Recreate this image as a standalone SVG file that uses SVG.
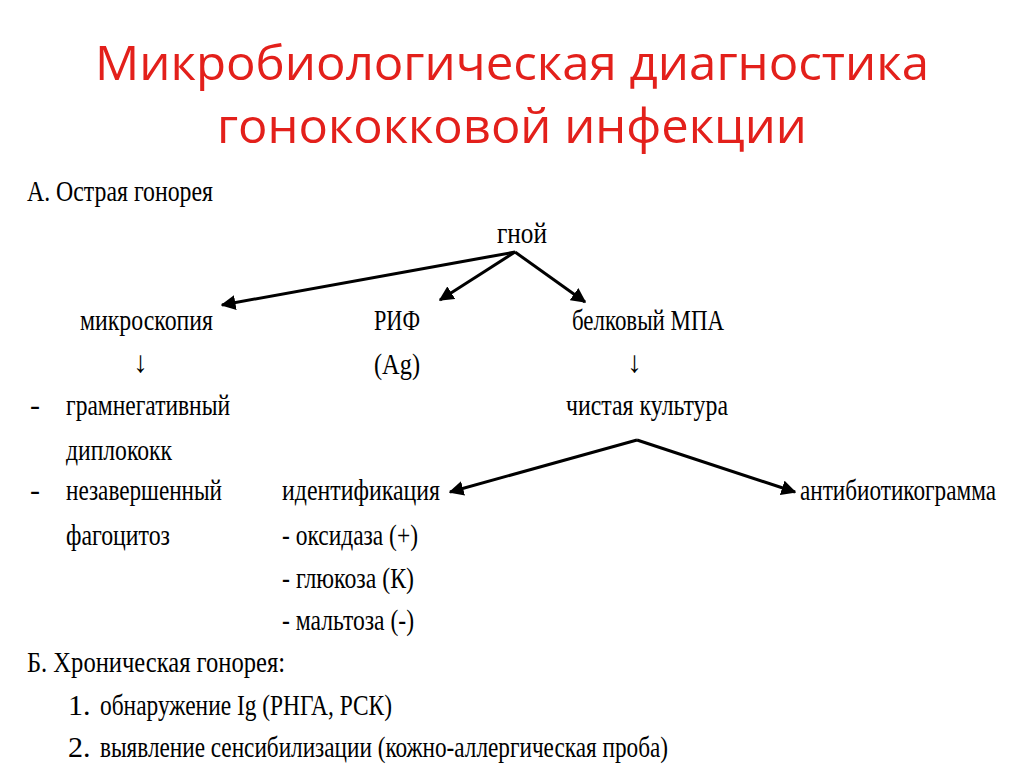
<svg xmlns="http://www.w3.org/2000/svg" width="1024" height="767" viewBox="0 0 1024 767">
<style>
.t{font-family:"Liberation Serif",serif;font-size:30px;fill:#000}
.h{font-family:"Open Sans","Liberation Sans",sans-serif;font-size:48px;fill:#e3201b;text-anchor:middle}
.c{stroke:#000;stroke-width:3;fill:none;marker-end:url(#a)}
</style>
<defs><marker id="a" viewBox="0 0 10 10" refX="9" refY="5" markerWidth="5" markerHeight="5" orient="auto"><path d="M0,0L10,5L0,10z" fill="#000"/></marker></defs>
<rect width="1024" height="767" fill="#fff"/>
<g id="title"><text class="h" x="512" y="80" textLength="834" lengthAdjust="spacingAndGlyphs">Микробиологическая диагностика</text><text class="h" x="512" y="143" textLength="590" lengthAdjust="spacingAndGlyphs">гонококковой инфекции</text></g>
<g id="n-a"><text class="t" x="27" y="201" textLength="186" lengthAdjust="spacingAndGlyphs">А. Острая гонорея</text></g>
<g id="n-gnoi"><text class="t" x="497" y="243" textLength="50" lengthAdjust="spacingAndGlyphs">гной</text></g>
<g id="n-micro"><text class="t" x="80" y="330" textLength="133" lengthAdjust="spacingAndGlyphs">микроскопия</text><text class="t" x="133" y="372" font-size="34">↓</text>
<text class="t" x="30" y="415">-</text><text class="t" x="66" y="415" textLength="164" lengthAdjust="spacingAndGlyphs">грамнегативный</text>
<text class="t" x="66" y="460" textLength="106" lengthAdjust="spacingAndGlyphs">диплококк</text>
<text class="t" x="30" y="500">-</text><text class="t" x="66" y="500" textLength="156" lengthAdjust="spacingAndGlyphs">незавершенный</text>
<text class="t" x="66" y="545" textLength="104" lengthAdjust="spacingAndGlyphs">фагоцитоз</text></g>
<g id="n-rif"><text class="t" x="374" y="330" textLength="46" lengthAdjust="spacingAndGlyphs">РИФ</text><text class="t" x="374" y="374" textLength="46" lengthAdjust="spacingAndGlyphs">(Ag)</text></g>
<g id="n-mpa"><text class="t" x="572" y="330" textLength="152" lengthAdjust="spacingAndGlyphs">белковый МПА</text><text class="t" x="627" y="372" font-size="34">↓</text></g>
<g id="n-culture"><text class="t" x="566" y="415" textLength="162" lengthAdjust="spacingAndGlyphs">чистая культура</text></g>
<g id="n-ident"><text class="t" x="282" y="500" textLength="158" lengthAdjust="spacingAndGlyphs">идентификация</text>
<text class="t" x="282" y="545" textLength="136" lengthAdjust="spacingAndGlyphs">- оксидаза (+)</text>
<text class="t" x="282" y="588" textLength="132" lengthAdjust="spacingAndGlyphs">- глюкоза (К)</text>
<text class="t" x="282" y="630" textLength="132" lengthAdjust="spacingAndGlyphs">- мальтоза (-)</text></g>
<g id="n-anti"><text class="t" x="800" y="500" textLength="196" lengthAdjust="spacingAndGlyphs">антибиотикограмма</text></g>
<g id="n-b"><text class="t" x="27" y="672" textLength="258" lengthAdjust="spacingAndGlyphs">Б. Хроническая гонорея:</text>
<text class="t" x="68" y="715">1.</text><text class="t" x="100" y="715" textLength="292" lengthAdjust="spacingAndGlyphs">обнаружение Ig (РНГА, РСК)</text>
<text class="t" x="68" y="757">2.</text><text class="t" x="100" y="757" textLength="568" lengthAdjust="spacingAndGlyphs">выявление сенсибилизации (кожно-аллергическая проба)</text></g>
<g id="connectors">
<line class="c" x1="515" y1="252" x2="222" y2="305"/>
<line class="c" x1="515" y1="252" x2="440" y2="300"/>
<line class="c" x1="515" y1="252" x2="585" y2="302"/>
<line class="c" x1="637" y1="440" x2="450" y2="492"/>
<line class="c" x1="637" y1="440" x2="795" y2="492"/>
</g>
</svg>
